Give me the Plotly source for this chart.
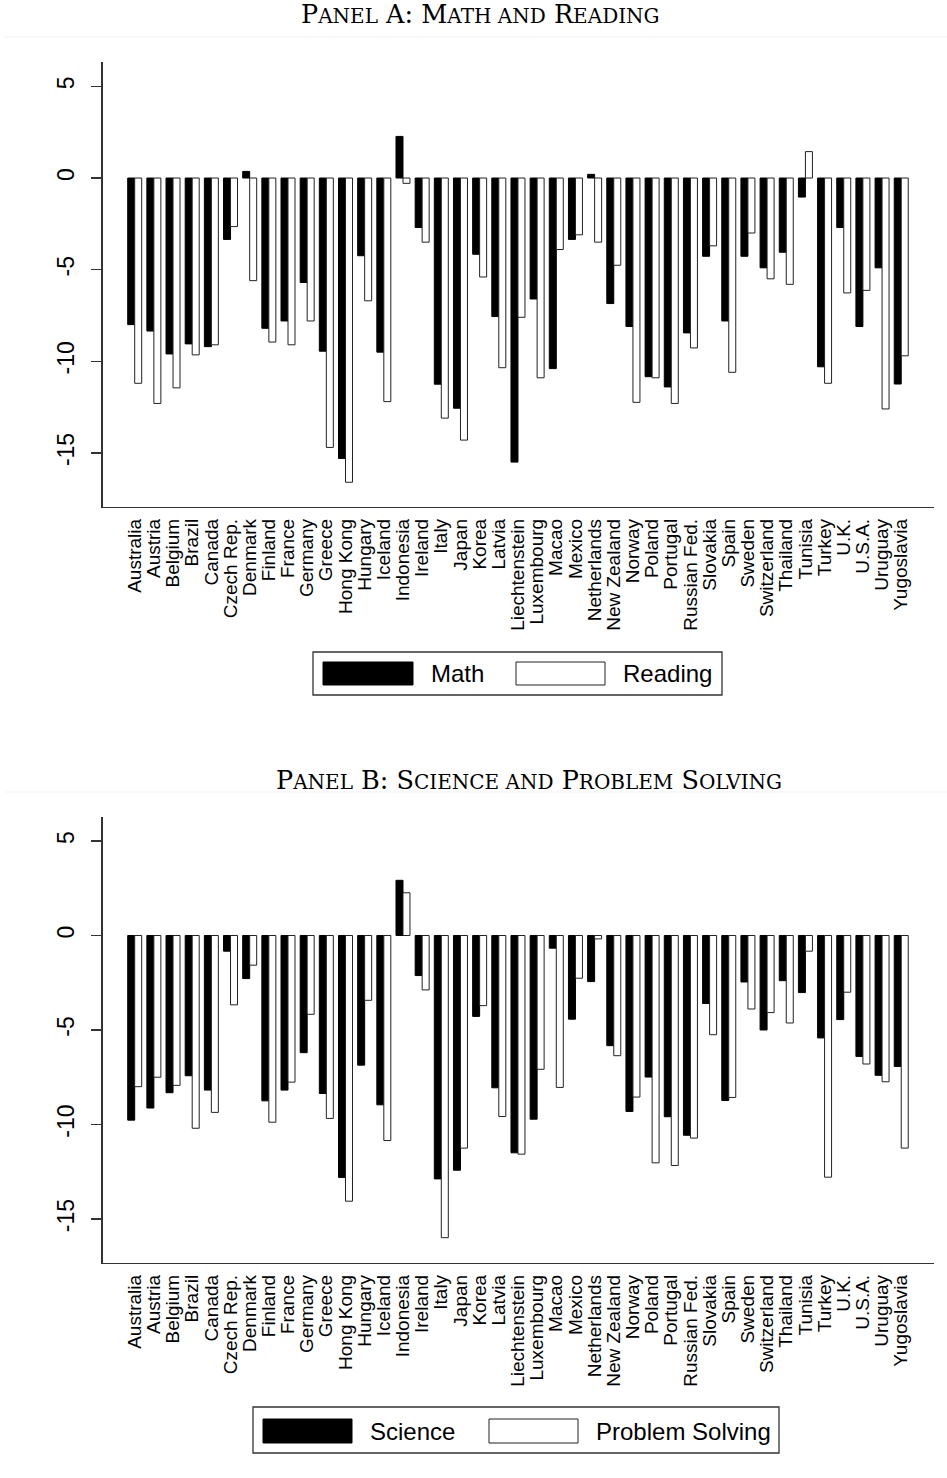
import plotly.graph_objects as go

countries = ["Australia", "Austria", "Belgium", "Brazil", "Canada", "Czech Rep.", "Denmark",
             "Finland", "France", "Germany", "Greece", "Hong Kong", "Hungary", "Iceland",
             "Indonesia", "Ireland", "Italy", "Japan", "Korea", "Latvia", "Liechtenstein",
             "Luxembourg", "Macao", "Mexico", "Netherlands", "New Zealand", "Norway", "Poland",
             "Portugal", "Russian Fed.", "Slovakia", "Spain", "Sweden", "Switzerland",
             "Thailand", "Tunisia", "Turkey", "U.K.", "U.S.A.", "Uruguay", "Yugoslavia"]

math = [-8.0, -8.35, -9.6, -9.05, -9.2, -3.35, 0.36, -8.2, -7.8, -5.7, -9.45, -15.3, -4.24,
        -9.5, 2.27, -2.7, -11.25, -12.56, -4.16, -7.56, -15.5, -6.6, -10.4, -3.35, 0.2,
        -6.85, -8.1, -10.84, -11.4, -8.45, -4.27, -7.8, -4.27, -4.9, -4.05, -1.04, -10.3,
        -2.7, -8.1, -4.9, -11.24]
reading = [-11.2, -12.3, -11.45, -9.65, -9.1, -2.65, -5.6, -8.95, -9.1, -7.8, -14.7, -16.6,
           -6.7, -12.2, -0.29, -3.5, -13.1, -14.3, -5.4, -10.35, -7.6, -10.9, -3.9, -3.1,
           -3.5, -4.76, -12.24, -10.9, -12.3, -9.27, -3.7, -10.6, -3.0, -5.5, -5.8, 1.44,
           -11.2, -6.27, -6.13, -12.6, -9.7]
science = [-9.77, -9.13, -8.32, -7.42, -8.18, -0.83, -2.28, -8.75, -8.18, -6.2, -8.36, -12.8,
           -6.86, -8.96, 2.92, -2.12, -12.88, -12.42, -4.28, -8.06, -11.5, -9.72, -0.67,
           -4.43, -2.44, -5.83, -9.31, -7.49, -9.59, -10.57, -3.6, -8.73, -2.46, -5.0,
           -2.39, -3.02, -5.42, -4.45, -6.4, -7.4, -6.93]
problem_solving = [-8.0, -7.5, -7.93, -10.2, -9.36, -3.67, -1.57, -9.88, -7.76, -4.17, -9.68,
                   -14.06, -3.43, -10.85, 2.26, -2.88, -15.99, -11.25, -3.71, -9.58, -11.57,
                   -7.08, -8.04, -2.26, -0.18, -6.36, -8.55, -12.03, -12.17, -10.72, -5.25,
                   -8.57, -3.89, -4.08, -4.63, -0.83, -12.79, -3.0, -6.8, -7.74, -11.25]

ytick_vals = [-15, -10, -5, 0, 5]
ytick_text = ["-15", "-10", "-5", "0", "5"]

# body margin is removed in the page, so figure pixels == page pixels
W, H = 947, 1478


def px(x):
    return x / W


def py(y):
    return 1 - y / H


AXC = "#333333"
SM = "<span style='font-size:20px'>"
fig = go.Figure()

panels = [
    dict(names=("Math", "Reading"), vals=(math, reading), xa="x", ya="y",
         yr=[-17.95, 6.33], top=62, bot=507,
         title="P" + SM + "ANEL</span> A: M" + SM + "ATH AND</span> R" + SM + "EADING</span>",
         tx=481, ty=14, sep=37,
         leg=dict(box=(313, 652, 722, 695), s1=(323, 662, 413, 685), t1=429,
                  s2=(516, 662, 605, 685), t2=621)),
    dict(names=("Science", "Problem Solving"), vals=(science, problem_solving), xa="x2", ya="y2",
         yr=[-17.33, 6.27], top=817, bot=1263,
         title="P" + SM + "ANEL</span> B: S" + SM + "CIENCE AND</span> P" + SM + "ROBLEM</span> S" + SM + "OLVING</span>",
         tx=529, ty=780, sep=792,
         leg=dict(box=(253, 1407, 779, 1453), s1=(263, 1419, 352, 1443), t1=368,
                  s2=(489, 1419, 578, 1443), t2=594)),
]

shapes = []
annotations = []
for i, p in enumerate(panels):
    n1, n2 = p["names"]
    v1, v2 = p["vals"]
    fig.add_trace(go.Bar(x=countries, y=v1, name=n1, xaxis=p["xa"], yaxis=p["ya"],
                         marker=dict(color="black", line=dict(color="black", width=1)),
                         showlegend=False, offsetgroup="a"))
    fig.add_trace(go.Bar(x=countries, y=v2, name=n2, xaxis=p["xa"], yaxis=p["ya"],
                         marker=dict(color="white", line=dict(color="#222222", width=1)),
                         showlegend=False, offsetgroup="b"))
    suffix = "" if i == 0 else "2"
    fig.update_layout(**{
        "xaxis" + suffix: dict(domain=[px(102.7), px(934)], anchor="y" + suffix,
                               range=[-1.67, 41.71], type="category",
                               tickmode="array", tickvals=countries, ticktext=countries,
                               showline=True, linecolor=AXC, linewidth=1.3,
                               ticks="", tickangle=-90, ticklabelstandoff=3,
                               tickfont=dict(family="Liberation Sans, Arial", size=19, color="black"),
                               showgrid=False, zeroline=False, fixedrange=True),
        "yaxis" + suffix: dict(domain=[py(p["bot"]), py(p["top"])], anchor="x" + suffix,
                               range=p["yr"], showline=True, linecolor=AXC, linewidth=1.3,
                               ticks="outside", ticklen=10, tickcolor=AXC, tickwidth=1.3,
                               tickmode="array", tickvals=ytick_vals, ticktext=ytick_text,
                               tickangle=-90, ticklabelstandoff=8,
                               tickfont=dict(family="Liberation Sans, Arial", size=23, color="black"),
                               showgrid=False, zeroline=False, fixedrange=True),
    })
    annotations.append(dict(text=p["title"], x=px(p["tx"]), y=py(p["ty"]), xref="paper",
                            yref="paper", xanchor="center", yanchor="middle", showarrow=False,
                            font=dict(family="DejaVu Serif, Liberation Serif, serif", size=25.5,
                                      color="black")))
    shapes.append(dict(type="line", xref="paper", yref="paper", x0=px(5), x1=px(947),
                       y0=py(p["sep"]), y1=py(p["sep"]), line=dict(color="#eef1f5", width=1)))
    lg = p["leg"]
    b = lg["box"]
    shapes.append(dict(type="rect", xref="paper", yref="paper", x0=px(b[0]), x1=px(b[2]),
                       y0=py(b[3]), y1=py(b[1]), line=dict(color=AXC, width=1.3),
                       fillcolor="white"))
    s = lg["s1"]
    shapes.append(dict(type="rect", xref="paper", yref="paper", x0=px(s[0]), x1=px(s[2]),
                       y0=py(s[3]), y1=py(s[1]), line=dict(color="black", width=1),
                       fillcolor="black"))
    s = lg["s2"]
    shapes.append(dict(type="rect", xref="paper", yref="paper", x0=px(s[0]), x1=px(s[2]),
                       y0=py(s[3]), y1=py(s[1]), line=dict(color="#222222", width=1),
                       fillcolor="white"))
    ymid = (lg["s1"][1] + lg["s1"][3]) / 2
    for tx, name in ((lg["t1"], n1), (lg["t2"], n2)):
        annotations.append(dict(text=name, x=px(tx), y=py(ymid), xref="paper", yref="paper",
                                xanchor="left", yanchor="middle", showarrow=False,
                                font=dict(family="Liberation Sans, Arial", size=24,
                                          color="black")))

fig.update_layout(width=W, height=H, autosize=False,
                  margin=dict(l=0, r=0, t=0, b=0),
                  paper_bgcolor="white", plot_bgcolor="white",
                  barmode="group", bargap=0.27, bargroupgap=0.0,
                  hovermode=False,
                  shapes=shapes, annotations=annotations)

fig.write_html("out.html", config={"displayModeBar": False, "staticPlot": True},
               post_script="document.body.style.margin='0';document.body.style.overflow='hidden';")
